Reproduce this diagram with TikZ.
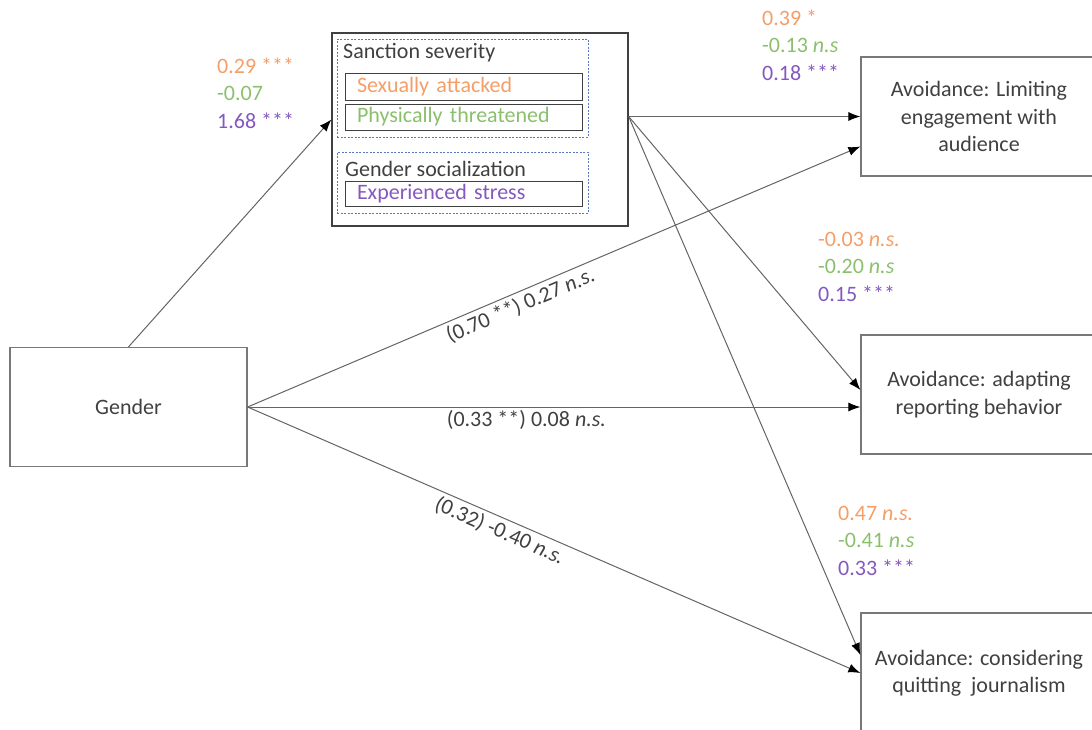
\documentclass[tikz,border=0pt]{standalone}
\usepackage{fontspec}
\setmainfont{Carlito}
\usetikzlibrary{arrows.meta,positioning}
\definecolor{txtgray}{RGB}{64,64,64}
\definecolor{boxgray}{RGB}{120,120,120}
\definecolor{linegray}{RGB}{100,100,100}
\definecolor{dashblue}{RGB}{90,120,190}
\definecolor{sexorange}{RGB}{244,158,104}
\definecolor{threatgreen}{RGB}{138,192,108}
\definecolor{stresspurple}{RGB}{132,88,190}
\tikzset{
  box/.style={draw=boxgray, line width=1.2pt, minimum width=237pt, minimum height=119pt,
    align=center, inner sep=0pt},
  groupbox/.style={draw=dashblue, line width=0.8pt, dash pattern=on 2pt off 1.5pt,
    minimum width=251pt, inner sep=0pt},
  itembox/.style={draw=txtgray, line width=1pt, text width=213pt, align=left,
    inner xsep=12pt, inner ysep=0pt, minimum height=26pt},
  coef/.style={align=left, inner sep=0pt, anchor=base west},
  conn/.style={draw=linegray, line width=1pt, -{Latex[length=12pt,width=9pt,color=black]}}
}
\begin{document}
\begin{tikzpicture}[x=1pt,y=-1pt,
    every node/.style={font=\fontsize{22}{27.5}\selectfont, text=txtgray}]
  \useasboundingbox (0,0) rectangle (1092,729);
  % predictor and outcomes
  \node[box] (gender) at (128.5,407) {Gender};
  \node[box, minimum width=236pt] (limit) at (979,116.5) {Avoidance: Limiting\\engagement with\\audience};
  \node[box, minimum width=236pt] (adapt) at (979,394.5) {Avoidance: adapting\\reporting behavior};
  \node[box, minimum width=236pt, minimum height=120pt] (quit) at (979,673) {Avoidance: considering\\quitting~~journalism};
  % mediators
  \node[draw=txtgray, line width=1.3pt, minimum width=296pt, minimum height=193pt, inner sep=0pt] (med) at (480,129.5) {};
  \node[groupbox, minimum height=98pt] (sanction) at (462.5,88) {};
  \node[groupbox, minimum height=61pt] (social) at (462.5,182.5) {};
  \node[anchor=west, inner sep=0pt] (sanctionlbl) at (343,53) {Sanction severity};
  \node[anchor=west, inner sep=0pt] (sociallbl) at (345,169) {Gender socialization};
  \node[itembox, text=sexorange, minimum height=27pt] (sexual) at (463.5,86.5) {Sexually attacked};
  \node[itembox, text=threatgreen] (threat) at (463.5,117) {Physically threatened};
  \node[itembox, text=stresspurple, minimum height=25pt] (stress) at (463.5,194) {Experienced stress};
  % coefficients (anchored at the last line)
  \node[coef] (medcoef) at (217,128) {\textcolor{sexorange}{0.29 ***}\\\textcolor{threatgreen}{-0.07}\\\textcolor{stresspurple}{1.68 ***}};
  \node[coef] (limitcoef) at (762,80) {\textcolor{sexorange}{0.39 *}\\\textcolor{threatgreen}{-0.13 \textit{n.s}}\\\textcolor{stresspurple}{0.18 ***}};
  \node[coef] (adaptcoef) at (818,301) {\textcolor{sexorange}{-0.03 \textit{n.s.}}\\\textcolor{threatgreen}{-0.20 \textit{n.s}}\\\textcolor{stresspurple}{0.15 ***}};
  \node[coef] (quitcoef) at (838,575) {\textcolor{sexorange}{0.47 \textit{n.s.}}\\\textcolor{threatgreen}{-0.41 \textit{n.s}}\\\textcolor{stresspurple}{0.33 ***}};
  % paths
  \draw[conn] (gender.north) -- ([yshift=10pt]med.west);
  \draw[conn] (med.east |- limit.west) -- (limit.west);
  \draw[conn] (med.east |- limit.west) -- ([yshift=4.5pt]adapt.west);
  \draw[conn] (med.east |- limit.west) -- ([yshift=18pt]quit.west);
  \draw[conn] (gender.east) -- ([yshift=-30pt]limit.west)
    node[pos=0.437, sloped, below] {(0.70 **) 0.27 \textit{n.s.}};
  \draw[conn] (gender.east) -- (gender.east -| adapt.west)
    node[pos=0.455, below] {(0.33 **) 0.08 \textit{n.s.}};
  \draw[conn] (gender.east) -- (quit.west)
    node[pos=0.42, sloped, below] {(0.32) -0.40 \textit{n.s.}};
\end{tikzpicture}
\end{document}
